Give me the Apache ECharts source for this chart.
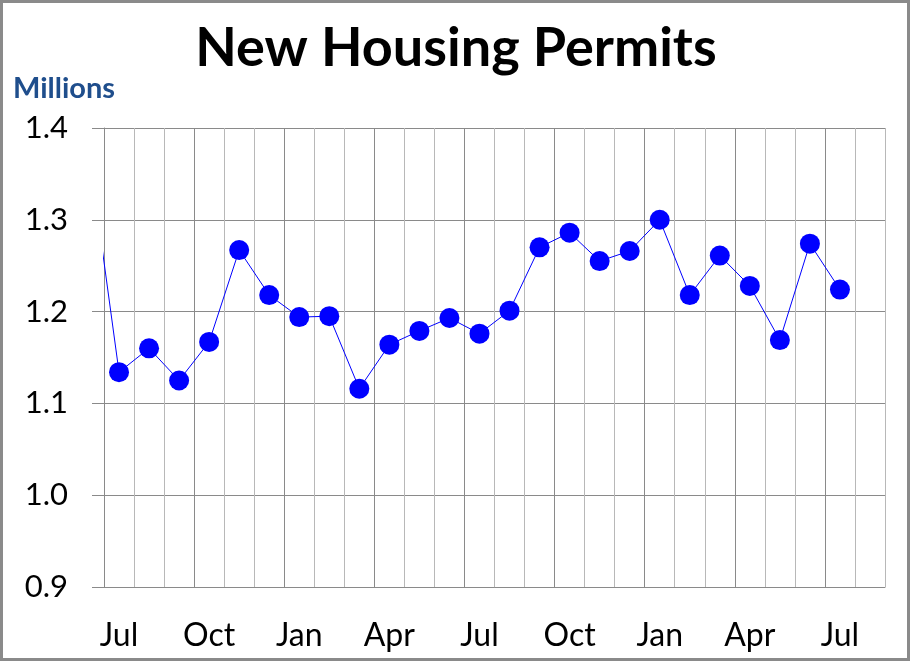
<!DOCTYPE html>
<html>
<head>
<meta charset="utf-8">
<script src="https://cdn.jsdelivr.net/npm/echarts@6/dist/echarts.min.js"></script>
<style>
html,body{margin:0;padding:0;background:#fff;}
#chart{width:912px;height:663px;}
</style>
</head>
<body>
<div id="chart"></div>
<script>
// Month categories shown on the x axis (26 slots, last one empty)
const months = ['Jul','Aug','Sep','Oct','Nov','Dec','Jan','Feb','Mar','Apr','May','Jun',
                'Jul','Aug','Sep','Oct','Nov','Dec','Jan','Feb','Mar','Apr','May','Jun','Jul','Aug'];
// Previous month (June) value, lies just left of the visible plot
const priorValue = 1.374;
// New housing permits, millions
const permits = [1.134,1.160,1.125,1.167,1.267,1.218,1.194,1.195,1.116,1.164,1.179,1.193,
                 1.176,1.201,1.270,1.286,1.255,1.266,1.300,1.218,1.261,1.228,1.169,1.274,1.224];
const yMin = 0.9, yMax = 1.4, yStep = 0.1;

const seriesData = [[-0.5, priorValue]].concat(permits.map((v, i) => [i + 0.5, v]));

const chart = echarts.init(document.getElementById('chart'));
const font = 'Lato, "Open Sans", sans-serif';
chart.setOption({
  animation: false,
  backgroundColor: '#fff',
  title: {
    text: 'New Housing Permits',
    left: 'center',
    top: 17,
    textStyle: {fontFamily: font, fontSize: 54, fontWeight: 'bold', color: '#000'}
  },
  graphic: [
    {type: 'rect', shape: {x: 1.5, y: 1.5, width: 907, height: 658},
     style: {fill: 'none', stroke: '#8a8a8a', lineWidth: 3}, silent: true},
    {type: 'text', left: 13, top: 74,
     style: {text: 'Millions', font: 'bold 29px ' + font, fill: '#1f4e8c'}}
  ],
  grid: {left: 104, right: 27, top: 128, bottom: 76, containLabel: false},
  xAxis: [
    {
      type: 'category',
      data: months,
      boundaryGap: true,
      axisLine: {show: true, lineStyle: {color: '#8a8a8a', width: 1}},
      axisTick: {show: false},
      axisLabel: {interval: 2, margin: 33, fontFamily: font, fontSize: 32, color: '#000'},
      splitLine: {show: true, interval: 0, lineStyle: {color: ['#8a8a8a', '#b8b8b8', '#b8b8b8'], width: 1}}
    },
    {
      type: 'value',
      min: 0, max: months.length,
      show: false
    }
  ],
  yAxis: {
    type: 'value',
    min: yMin, max: yMax, interval: yStep,
    axisLine: {show: true, lineStyle: {color: '#8a8a8a'}},
    axisTick: {show: true, length: 12, lineStyle: {color: '#8a8a8a'}},
    axisLabel: {margin: 36, fontFamily: font, fontSize: 31, color: '#000',
                formatter: v => v.toFixed(1)},
    splitLine: {show: true, lineStyle: {color: '#8a8a8a', width: 1}}
  },
  series: [{
    type: 'line',
    xAxisIndex: 1,
    yAxisIndex: 0,
    data: seriesData,
    clip: true,
    symbol: 'circle',
    symbolSize: 20,
    itemStyle: {color: '#0000ff'},
    lineStyle: {color: '#0000ff', width: 1}
  }]
});
</script>
</body>
</html>
